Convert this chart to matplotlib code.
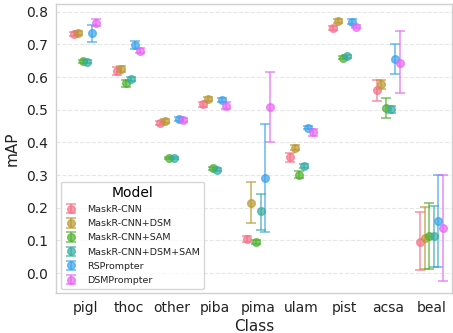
import numpy as np
import matplotlib
matplotlib.use("Agg")
import matplotlib.pyplot as plt

classes = ["pigl", "thoc", "other", "piba", "pima", "ulam", "pist", "acsa", "beal"]
models = ["MaskR-CNN", "MaskR-CNN+DSM", "MaskR-CNN+SAM", "MaskR-CNN+DSM+SAM",
          "RSPrompter", "DSMPrompter"]
colors = ["#f77189", "#bb9832", "#50b131", "#36ada4", "#3ba3ec", "#e866f4"]

mean_maskrcnn = [0.733, 0.618, 0.460, 0.517, 0.105, 0.355, 0.750, 0.561, 0.096]
lo_maskrcnn = [0.727, 0.606, 0.455, 0.509, 0.095, 0.341, 0.744, 0.527, 0.009]
hi_maskrcnn = [0.739, 0.630, 0.465, 0.525, 0.115, 0.368, 0.756, 0.591, 0.187]

mean_dsm = [0.735, 0.626, 0.466, 0.533, 0.215, 0.384, 0.771, 0.578, 0.106]
lo_dsm = [0.729, 0.617, 0.461, 0.527, 0.152, 0.377, 0.765, 0.565, 0.012]
hi_dsm = [0.741, 0.635, 0.471, 0.539, 0.279, 0.391, 0.777, 0.591, 0.201]

mean_sam = [0.649, 0.581, 0.353, 0.321, 0.096, 0.301, 0.660, 0.506, 0.113]
lo_sam = [0.644, 0.570, 0.349, 0.316, 0.090, 0.290, 0.655, 0.476, 0.014]
hi_sam = [0.654, 0.592, 0.357, 0.326, 0.102, 0.312, 0.665, 0.535, 0.216]

mean_dsm_sam = [0.647, 0.594, 0.353, 0.317, 0.189, 0.328, 0.664, 0.501, 0.114]
lo_dsm_sam = [0.643, 0.588, 0.349, 0.313, 0.133, 0.321, 0.660, 0.489, 0.019]
hi_dsm_sam = [0.651, 0.600, 0.357, 0.321, 0.243, 0.335, 0.668, 0.513, 0.206]

mean_rsprompter = [0.736, 0.698, 0.473, 0.531, 0.291, 0.445, 0.770, 0.656, 0.159]
lo_rsprompter = [0.709, 0.686, 0.467, 0.525, 0.126, 0.440, 0.763, 0.611, 0.019]
hi_rsprompter = [0.760, 0.710, 0.479, 0.537, 0.457, 0.450, 0.777, 0.701, 0.299]

mean_dsmprompter = [0.766, 0.681, 0.469, 0.513, 0.510, 0.431, 0.754, 0.644, 0.138]
lo_dsmprompter = [0.756, 0.673, 0.464, 0.503, 0.402, 0.420, 0.749, 0.550, -0.025]
hi_dsmprompter = [0.777, 0.689, 0.474, 0.523, 0.617, 0.442, 0.759, 0.740, 0.299]

means = [mean_maskrcnn, mean_dsm, mean_sam, mean_dsm_sam, mean_rsprompter, mean_dsmprompter]
los = [lo_maskrcnn, lo_dsm, lo_sam, lo_dsm_sam, lo_rsprompter, lo_dsmprompter]
his = [hi_maskrcnn, hi_dsm, hi_sam, hi_dsm_sam, hi_rsprompter, hi_dsmprompter]

fig = plt.figure(figsize=(4.53, 3.33), dpi=100)
ax = fig.add_axes([0.1236, 0.121, 0.874, 0.867])

x = np.arange(len(classes))
offsets = np.linspace(-0.265, 0.265, len(models))
handles = []
for i, m in enumerate(models):
    mu = np.array(means[i])
    lo = np.array(los[i])
    hi = np.array(his[i])
    h = ax.errorbar(x + offsets[i], mu, yerr=[mu - lo, hi - mu], fmt="o",
                    color=colors[i], ms=5.5, elinewidth=1.2, capsize=3.5,
                    capthick=1.2, alpha=0.7, label=m, zorder=3)
    handles.append(h)

ax.set_xticks(x)
ax.set_xticklabels(classes, fontsize=10, color="#222222")
ax.set_xlim(-0.67, 8.47)
ax.set_ylim(-0.06, 0.824)
ax.set_yticks(np.arange(0, 0.81, 0.1))
ax.set_yticklabels([f"{v:.1f}" for v in np.arange(0, 0.81, 0.1)], fontsize=10,
                   color="#222222")
ax.tick_params(length=0, pad=6)
ax.grid(axis="y", ls="--", color="#e6e6e6", lw=0.8, zorder=0)
ax.set_axisbelow(True)
for s in ax.spines.values():
    s.set_color("#d0d0d0")
    s.set_linewidth(1.0)
ax.set_xlabel("Class", fontsize=11, labelpad=3, color="#222222")
ax.set_ylabel("mAP", fontsize=11, labelpad=4, color="#222222")

leg = ax.legend(handles=handles, labels=models, title="Model", loc="lower left",
                bbox_to_anchor=(0.0126, 0.012), borderaxespad=0, fontsize=6.8,
                title_fontsize=10, frameon=True, edgecolor="#cccccc",
                handlelength=1.2, labelspacing=0.55, borderpad=0.45,
                handletextpad=1.1)
for t in leg.get_texts():
    t.set_color("#222222")

fig.savefig("out.png", dpi=100)
